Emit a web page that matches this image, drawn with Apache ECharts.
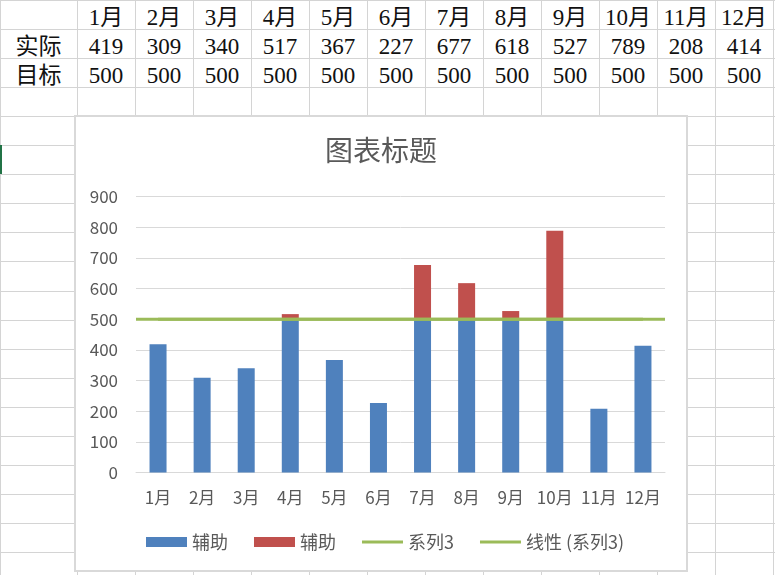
<!DOCTYPE html>
<html>
<head>
    <meta charset="utf-8">
    <title>图表标题</title>
    <script src="https://cdn.jsdelivr.net/npm/echarts@6/dist/echarts.min.js"></script>
    <style>
        html, body { margin: 0; padding: 0; background: #fff; }
        #sheet { position: absolute; left: 0; top: 0; width: 775px; height: 575px; overflow: hidden; }
        .vline { position: absolute; top: 0; width: 1px; height: 575px; background: #d4d4d4; }
        .hline { position: absolute; left: 0; height: 1px; width: 775px; background: #d4d4d4; }
        .cell {
            position: absolute; height: 29px; line-height: 29px; padding-top: 3px;
            text-align: center; color: #111; font-size: 23px;
            font-family: "Liberation Serif", "Noto Sans CJK SC", serif;
        }
        #box {
            position: absolute; left: 74px; top: 115px; width: 614px; height: 457px;
            box-sizing: border-box; border: 2px solid #d9d9d9; background: #fff;
        }
        #sel { position: absolute; left: 0; top: 145px; width: 2px; height: 29px; background: #217346; }
        #main { position: absolute; left: 0; top: 0; width: 775px; height: 575px; }
    </style>
</head>
<body>
<div id="sheet"></div>
<div id="sel"></div>
<div id="box"></div>
<div id="main"></div>

<script>
    // 表格数据
    var months = ['1月', '2月', '3月', '4月', '5月', '6月', '7月', '8月', '9月', '10月', '11月', '12月'];
    var actual = [419, 309, 340, 517, 367, 227, 677, 618, 527, 789, 208, 414];
    var target = [500, 500, 500, 500, 500, 500, 500, 500, 500, 500, 500, 500];

    // 辅助列：未超目标部分 / 超出目标部分
    var helperLow = [419, 309, 340, 500, 367, 227, 500, 500, 500, 500, 208, 414];
    var helperHigh = [0, 0, 0, 17, 0, 0, 177, 118, 27, 289, 0, 0];

    // 画表格网格
    var sheet = document.getElementById('sheet');
    var colX = [0, 77];
    for (var i = 1; i <= 12; i++) colX.push(77 + 58 * i);
    var rowH = 29.05;

    colX.forEach(function (x) {
        var d = document.createElement('div');
        d.className = 'vline';
        d.style.left = x + 'px';
        sheet.appendChild(d);
    });
    for (var r = 0; r * rowH < 575; r++) {
        var h = document.createElement('div');
        h.className = 'hline';
        h.style.top = Math.round(r * rowH) + 'px';
        sheet.appendChild(h);
    }

    var rows = [[''].concat(months), ['实际'].concat(actual), ['目标'].concat(target)];
    rows.forEach(function (row, ri) {
        row.forEach(function (txt, ci) {
            var c = document.createElement('div');
            c.className = 'cell';
            c.style.left = colX[ci] + 'px';
            c.style.width = (colX[ci + 1] - colX[ci]) + 'px';
            c.style.top = Math.round(ri * rowH) + 'px';
            c.textContent = txt;
            sheet.appendChild(c);
        });
    });

    var myChart = echarts.init(document.getElementById('main'));
    var font = '"Noto Sans CJK SC", sans-serif';

    var option = {
        textStyle: { fontFamily: font },
        title: {
            text: '图表标题',
            left: 320,
            top: 131,
            textStyle: { fontSize: 28, fontWeight: 'normal', color: '#595959', fontFamily: font }
        },
        legend: {
            left: 141,
            top: 528,
            itemWidth: 41,
            itemHeight: 10,
            itemGap: 26,
            textStyle: { fontSize: 18, color: '#595959' },
            formatter: function (name) { return name.replace(/#\d$/, ''); },
            data: [
                { name: '辅助#1', icon: 'rect' },
                { name: '辅助#2', icon: 'rect' },
                { name: '系列3', icon: 'path://M0,0H41V3H0Z' },
                { name: '线性 (系列3)', icon: 'path://M0,0H41V3H0Z' }
            ]
        },
        grid: { left: 136, right: 110, top: 196.7, bottom: 102.4 },
        xAxis: [{
            type: 'category',
            data: months,
            axisLine: { lineStyle: { color: '#d9d9d9', width: 1 } },
            axisTick: { show: false },
            axisLabel: { interval: 0, fontSize: 17, color: '#595959', margin: 16 }
        }, {
            type: 'category',
            data: months,
            boundaryGap: false,
            show: false
        }],
        yAxis: {
            type: 'value',
            min: 0,
            max: 900,
            interval: 100,
            axisLine: { show: false },
            axisTick: { show: false },
            axisLabel: { fontSize: 17, color: '#595959', margin: 18 },
            splitLine: { lineStyle: { color: '#d9d9d9', width: 1 } }
        },
        series: [{
            name: '辅助#1',
            type: 'bar',
            stack: 'a',
            barWidth: 17,
            itemStyle: { color: '#4f81bd' },
            data: helperLow
        }, {
            name: '辅助#2',
            type: 'bar',
            stack: 'a',
            barWidth: 17,
            itemStyle: { color: '#c0504d' },
            data: helperHigh
        }, {
            name: '系列3',
            type: 'line',
            symbol: 'none',
            lineStyle: { color: '#9bbb59', width: 3 },
            itemStyle: { color: '#9bbb59' },
            data: target
        }, {
            name: '线性 (系列3)',
            type: 'line',
            xAxisIndex: 1,
            symbol: 'none',
            lineStyle: { color: '#9bbb59', width: 3 },
            itemStyle: { color: '#9bbb59' },
            data: target
        }]
    };

    myChart.setOption(option);
</script>
</body>
</html>
